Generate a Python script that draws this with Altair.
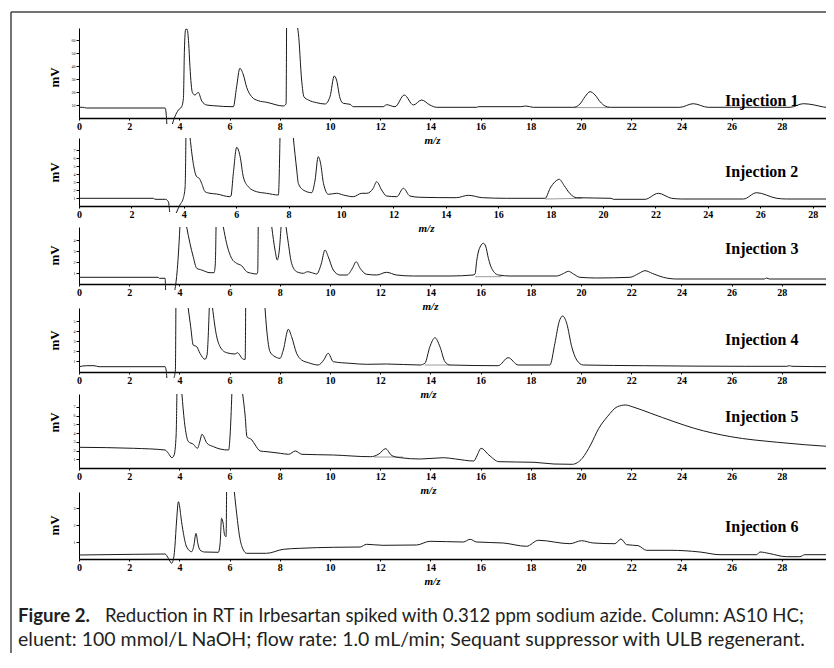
import altair as alt
import pandas as pd

W, H = 815, 641
SERIF = "Liberation Serif"
CAP_FONT = "Lato"

# retention time (min) , detector signal (panel units)
inj1 = [(0,10.7),(0.15,10.7),(0.3,10),(3.43,10),(3.47,5),(3.5,-6),(3.6,None),(3.72,-6),(3.82,1.3),(3.96,8),(4.09,11.3),(4.16,19.7),(4.2,68),(4.25,88.7),(4.31,88.7),(4.37,74.7),(4.42,51.3),(4.52,25.3),(4.62,23),(4.75,25.7),(4.89,17),(5.09,13),(5.35,12.3),(6.15,11.3),(6.28,31.3),(6.41,49.7),(6.55,43),(6.68,30.7),(6.88,21.3),(7.14,17.3),(7.48,15.7),(8.14,12),(8.25,14),(8.27,90),(8.5,None),(8.71,90),(8.74,84.7),(8.87,38),(8.96,21.3),(9.14,18),(9.47,15.3),(9.8,14),(10.0,21.3),(10.17,42),(10.26,38),(10.4,19.7),(10.53,14.7),(10.8,13.7),(10.93,11.3),(12.12,11.3),(12.25,13.3),(12.59,11.3),(12.96,23),(13.32,13),(13.65,18),(13.98,13),(14.25,10.7),(15.85,10.7),(15.9,11.3),(17.6,11.3),(17.8,12),(18.1,10.7),(19.7,10.7),(19.96,14),(20.16,21.3),(20.36,26.3),(20.56,23),(20.76,16.3),(20.96,12),(21.16,10.7),(23.94,10.7),(24.47,14.3),(25.07,10.7),(28.33,10.7),(28.86,14.3),(29.3,13),(29.66,11),(30.0,10.3)]

inj2 = [(0,7.7),(2.84,7.7),(2.9,6.7),(3.3,6.7),(3.41,4.3),(3.46,-6),(3.6,None),(3.71,-7),(3.85,1),(3.98,7.7),(4.05,19.3),(4.08,68),(4.16,None),(4.24,68),(4.36,42.7),(4.49,29.3),(4.59,27.7),(4.68,22.7),(4.81,14.3),(5.0,12.7),(5.25,12),(5.76,9.3),(5.8,10),(5.89,32.7),(6.02,58.7),(6.15,49.3),(6.27,29.3),(6.46,19.3),(6.78,14.3),(7.16,12.7),(7.61,11),(7.67,68),(7.9,None),(8.18,68),(8.31,36),(8.37,22.7),(8.56,16),(8.88,13.3),(9.01,26),(9.13,49.3),(9.22,42.7),(9.33,22.7),(9.52,11.7),(9.83,12.7),(10.09,11),(10.47,9.3),(10.79,12.7),(10.98,12.7),(11.23,17.7),(11.36,24.3),(11.55,16),(11.74,10),(12.13,9.3),(12.38,17.7),(12.63,10),(13.02,8.7),(14.4,8.3),(14.86,10.7),(15.4,8.3),(16.32,7.7),(17.79,7.7),(17.98,17.7),(18.17,24.3),(18.33,26.7),(18.51,20.7),(18.74,12.3),(18.99,8.3),(20.3,7.7),(20.4,6.7),(21.6,6.7),(22.11,12.7),(22.62,7.7),(23.0,7),(25.36,7),(25.86,13.3),(26.63,7.7),(27.0,7),(28.7,7)]

inj3 = [(0,6.7),(3.16,6.7),(3.2,5.7),(3.43,5.7),(3.45,-6),(3.6,None),(3.82,-6),(3.9,10),(3.96,30),(4.02,57),(4.15,None),(4.29,57),(4.42,40.7),(4.55,27.3),(4.69,15.7),(4.89,14),(5.22,11.3),(5.38,11.3),(5.43,20),(5.46,57),(5.6,None),(5.75,57),(5.88,40.7),(6.08,25.7),(6.28,20.7),(6.48,18.3),(6.68,12.3),(6.88,10.7),(7.08,10),(7.12,12),(7.14,57),(7.4,None),(7.68,57),(7.81,34),(7.9,24),(7.98,34),(8.05,57),(8.15,None),(8.25,57),(8.34,40.7),(8.47,20.7),(8.67,12.3),(8.94,10.7),(9.1,12.3),(9.25,11.5),(9.47,10),(9.65,20),(9.8,34),(9.93,27.3),(10.13,14),(10.4,9),(10.67,9),(10.9,16),(11.04,22.3),(11.2,15.7),(11.46,9.7),(11.86,9),(12.25,11.7),(12.65,9),(13.32,8),(14.78,8),(15.7,9),(15.78,10),(15.84,22.3),(15.91,32),(16.0,38),(16.11,40.7),(16.2,38),(16.31,25.7),(16.44,15.7),(16.71,9),(17.17,8),(19.03,8),(19.3,10.5),(19.5,12.7),(19.7,10),(19.96,6.7),(20.62,6),(21.95,6.7),(22.3,10.5),(22.55,13.3),(22.85,10.5),(23.28,6.7),(23.81,5),(27.3,5),(27.4,6),(27.5,5),(30.0,5)]

inj4 = [(0,5.3),(0.3,6.3),(0.6,6.3),(0.8,5.3),(3.43,5.3),(3.47,2),(3.5,-6),(3.65,None),(3.78,-6),(3.84,2),(3.86,64),(4.1,None),(4.35,64),(4.45,45.3),(4.55,27),(4.69,25.3),(4.82,18.7),(5.02,12.7),(5.1,17),(5.19,64),(5.25,None),(5.32,64),(5.46,38.7),(5.62,25.3),(5.88,19.3),(6.22,18),(6.31,19.3),(6.55,12.7),(6.62,12.7),(6.64,64),(7.0,None),(7.41,64),(7.48,42),(7.61,20.3),(7.81,15.3),(8.01,13.7),(8.14,22),(8.34,42.7),(8.47,35.3),(8.67,18.7),(8.87,12),(9.14,9.3),(9.53,7),(9.75,12),(9.93,18.7),(10.13,10.3),(10.8,8.7),(11.46,7.7),(12.25,8),(13.59,7),(13.78,8.7),(13.98,25.3),(14.18,34.3),(14.38,25.3),(14.58,10.3),(14.78,7),(16.7,6.3),(17.1,14.3),(17.5,7),(18.76,7),(18.96,28.7),(19.13,50.3),(19.27,56),(19.43,48.7),(19.63,25.3),(19.83,12),(20.09,7),(22.5,6.3),(26.5,5.7),(28.2,5.7),(28.3,6.3),(28.4,5.7),(30.0,5.3)]

inj5 = [(0,20.7),(2.17,19.7),(3.43,18),(3.56,14.7),(3.7,10.3),(3.79,13),(3.87,33),(3.9,74),(4.0,None),(4.1,74),(4.2,46.3),(4.36,26.3),(4.56,23.7),(4.72,19.7),(4.82,27),(4.9,33.7),(5.1,24.7),(5.36,21.3),(5.62,19),(5.96,18),(6.02,33),(6.09,74),(6.3,None),(6.52,74),(6.62,52),(6.69,31.3),(6.89,28),(7.02,23),(7.22,17),(7.49,16.3),(8.02,14.7),(8.35,13.7),(8.62,17),(8.88,13.7),(10.14,13),(11.61,11.3),(11.95,14),(12.21,19.3),(12.47,12.3),(12.8,10.3),(13.6,9),(14.53,10.3),(15.0,9),(15.73,7),(15.85,12),(16.02,19.7),(16.33,13),(16.73,6.3),(18.13,5.7),(18.92,4),(19.65,3.7),(20.05,9.7),(20.38,23),(20.71,39.7),(21.05,51.3),(21.45,61.3),(21.78,63),(22.04,61.3),(22.78,54.7),(23.71,46.3),(24.51,39.7),(25.97,31.3),(27.83,25.7),(30.0,21.3)]

inj6 = [(0,4),(2.2,4.7),(3.43,5),(3.56,0.7),(3.69,-4.3),(3.78,2.3),(3.82,12.3),(3.89,39),(3.96,57.3),(4.02,50.7),(4.06,42.3),(4.16,25.7),(4.29,12),(4.49,7.3),(4.58,14),(4.66,25.7),(4.74,15),(4.82,9),(5.0,7),(5.55,6.7),(5.62,15),(5.68,40.7),(5.74,36),(5.8,24),(5.86,22.3),(5.88,67),(6.05,None),(6.19,67),(6.28,45.7),(6.41,20.7),(6.55,9),(6.68,5.7),(7.47,5.7),(8.14,9.7),(8.8,10.7),(10.13,11.7),(11.2,12),(11.46,14.7),(12.1,13.7),(13.45,14),(13.98,17.7),(15.31,17),(15.58,19.7),(15.84,17),(16.9,16),(17.83,12.7),(18.3,18.7),(19.56,15.3),(20.02,18.3),(20.49,16),(21.35,15.3),(21.59,20),(21.82,14.3),(22.28,13.3),(22.61,8.7),(23.55,8.7),(24.74,7),(25.54,4.3),(27.0,4.3),(27.13,7),(27.5,5.5),(28.19,2.3),(28.72,2.3),(28.92,4.3),(30.0,4.3)]

# integration baselines drawn under the azide peak (start, end) in each panel
azide_base = [[(19.7, 10.4), (21.13, 10.4)], [(17.8, 7.0), (19.2, 7.7)], [(15.78, 7.3), (16.84, 7.3)],
              [(13.78, 7.0), (14.78, 7.0)], [(11.75, 11.0), (12.9, 11.0)], []]

x_ticks = list(range(0, 29, 2))
labels = ["Injection 1", "Injection 2", "Injection 3", "Injection 4", "Injection 5", "Injection 6"]
label_pos = [(27.2, 17.3), (26.05, 34.3), (27.2, 35), (27.2, 32), (27.2, 50.7), (27.2, 32.3)]
y_tick_vals = [[13, 26, 39, 52, 65, 78], [8, 16, 24, 32, 40, 48, 56], [11, 22, 33, 44],
               [11, 21, 31, 41, 51], [8.75, 17.5, 26.25, 35, 43.75, 52.5, 61.25], [17, 34, 51]]
y_tick_expr = ["format(datum.value/1.3,'d')", "format(datum.value/8,'d')", "format(datum.value/11,'d')",
               "format((datum.value-1)/10,'d')", "format(datum.value/8.75,'d')", "format(datum.value/17,'d')"]
caption1_bold = "Figure 2."
caption1_rest = "Reduction in RT in Irbesartan spiked with 0.312 ppm sodium azide. Column: AS10 HC;"
caption2 = "eluent: 100 mmol/L NaOH; flow rate: 1.0 mL/min; Sequant suppressor with ULB regenerant."

# layout of each panel (pixels inside the frame)
layout = [
    dict(xdom=[0, 30], xr=[68, 821], ydom=[0, 90], yr=[106, 16], mz=421, mv=65),
    dict(xdom=[0, 28.7], xr=[68, 820], ydom=[0, 68], yr=[194, 126], mz=415, mv=160),
    dict(xdom=[0, 30], xr=[68, 821], ydom=[0, 57], yr=[272, 215], mz=419, mv=243),
    dict(xdom=[0, 30], xr=[68, 821], ydom=[0, 64], yr=[360, 296], mz=417, mv=328),
    dict(xdom=[0, 30], xr=[68, 821], ydom=[0, 74], yr=[456, 382], mz=417, mv=410),
    dict(xdom=[0, 30], xr=[68, 821], ydom=[0, 67], yr=[547, 480], mz=421, mv=513),
]

traces = [inj1, inj2, inj3, inj4, inj5, inj6]


def make_panel(i):
    L = layout[i]
    df = pd.DataFrame(traces[i], columns=["t", "v"])
    xenc = alt.X("t:Q",
                 scale=alt.Scale(domain=L["xdom"], range=L["xr"], nice=False, zero=False),
                 axis=alt.Axis(orient="bottom", offset=L["yr"][0] - H, values=x_ticks, format="d",
                               labelFlush=False, labelOverlap=False, labelFont=SERIF, labelFontWeight="bold",
                               labelFontSize=10, labelColor="black", labelPadding=1, tickSize=2,
                               tickColor="black", domainColor="black", domainWidth=1.5, grid=False,
                               title="m/z", titleFont=SERIF, titleFontStyle="italic", titleFontWeight="bold",
                               titleFontSize=11, titleColor="black", titleX=L["mz"], titleY=22,
                               titleAlign="center", titleBaseline="middle"))
    yenc = alt.Y("v:Q",
                 scale=alt.Scale(domain=L["ydom"], range=L["yr"], nice=False, zero=False),
                 axis=alt.Axis(orient="left", offset=-68, values=y_tick_vals[i], labelExpr=y_tick_expr[i],
                               labelFont=SERIF, labelFontSize=4, labelColor="black", labelPadding=1,
                               tickSize=3, tickColor="black", domainColor="black", domainWidth=1, grid=False,
                               title="mV", titleFont=SERIF, titleFontWeight="bold", titleFontSize=13,
                               titleColor="black", titleAngle=270, titleX=-25, titleY=L["mv"],
                               titleAlign="center", titleBaseline="middle"))
    layers = []
    if azide_base[i]:
        bdf = pd.DataFrame(azide_base[i], columns=["t", "v"])
        layers.append(alt.Chart(bdf).mark_line(color="#9a9a9a", strokeWidth=1).encode(x=xenc, y=yenc))
    layers.append(alt.Chart(df).mark_line(color="#1a1a1a", strokeWidth=1, interpolate="monotone")
                  .encode(x=xenc, y=yenc))
    lab = pd.DataFrame({"t": [label_pos[i][0]], "v": [label_pos[i][1]], "label": [labels[i]]})
    layers.append(alt.Chart(lab).mark_text(font=SERIF, fontWeight="bold", fontSize=16, color="black",
                                           align="center", baseline="middle")
                  .encode(x=xenc, y=yenc, text="label:N"))
    return alt.layer(*layers)


panels = [make_panel(i) for i in range(6)]

one = pd.DataFrame({"a": [0]})
cap_b = alt.Chart(pd.DataFrame({"s": [caption1_bold]})).mark_text(
    font=CAP_FONT, fontSize=18.6, fontWeight="bold", color="#231f20", align="left", baseline="middle"
).encode(x=alt.value(7), y=alt.value(604), text="s:N")
cap_r = alt.Chart(pd.DataFrame({"s": [caption1_rest]})).mark_text(
    font=CAP_FONT, fontSize=18.6, color="#231f20", align="left", baseline="middle"
).encode(x=alt.value(94), y=alt.value(604), text="s:N")
cap_2 = alt.Chart(pd.DataFrame({"s": [caption2]})).mark_text(
    font=CAP_FONT, fontSize=19.5, color="#231f20", align="left", baseline="middle"
).encode(x=alt.value(7), y=alt.value(628), text="s:N")
frame_l = alt.Chart(one).mark_rule(color="#444444", strokeWidth=1.5).encode(
    x=alt.value(0), y=alt.value(0), y2=alt.value(H))
frame_t = alt.Chart(one).mark_rule(color="#444444", strokeWidth=1.5).encode(
    y=alt.value(0), x=alt.value(0), x2=alt.value(W))

chart = alt.layer(*panels, cap_b, cap_r, cap_2, frame_l, frame_t).resolve_scale(
    x="independent", y="independent"
).resolve_axis(
    x="independent", y="independent"
).properties(
    width=W, height=H,
    autosize=alt.AutoSizeParams(type="none"),
    padding={"left": 3, "top": 4, "right": 0, "bottom": 0},
    background="white",
).configure_view(strokeWidth=0)

chart.save("out.html", embed_options={"renderer": "svg", "actions": False})
